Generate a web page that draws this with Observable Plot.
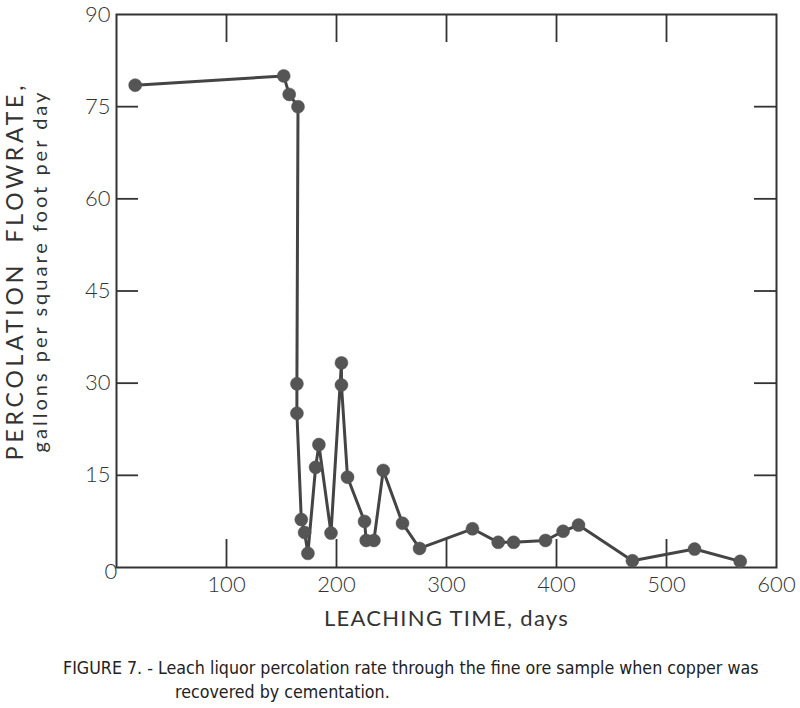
<!DOCTYPE html>
<html><head><meta charset="utf-8">
<script src="https://cdn.jsdelivr.net/npm/d3@7"></script>
<script src="https://cdn.jsdelivr.net/npm/@observablehq/plot@0.6"></script>
<style>
body{margin:0;background:#fff;}
#wrap{position:relative;width:800px;height:708px;}
.cap{position:absolute;font-family:"Liberation Sans Narrow","DejaVu Sans Condensed",sans-serif;font-size:17.7px;color:#222;white-space:nowrap;}
</style></head><body>
<div id="wrap"><div id="chart"></div>
<div class="cap" style="left:63px;top:658px;">FIGURE 7. - Leach liquor percolation rate through the fine ore sample when copper was</div>
<div class="cap" style="left:175px;top:682px;">recovered by cementation.</div>
</div>
<script>
// Data
const days = [17,152,157,165,164,164,168,171,174,181,184,195,204.5,204.5,210,225.5,227,234,242.5,260,275.5,323.6,347,361,390,406,420,469,525.5,567];
const flow = [78.5,80,77,75,29.9,25.1,7.8,5.7,2.3,16.3,20,5.6,33.3,29.7,14.7,7.5,4.4,4.4,15.8,7.2,3.1,6.3,4.1,4.1,4.4,5.9,6.9,1.1,3.0,1.0];
const xTicks = [100,200,300,400,500];
const yTicks = [15,30,45,60,75];
const xTickLabels = [100,200,300,400,500,600];
const yTickLabels = [15,30,45,60,75,90];
const xTitle = "LEACHING TIME, days";
const yTitle = "PERCOLATION  FLOWRATE,";
const ySub = "gallons per square foot per day";

const data = days.map((d,i)=>({days:d, flow:flow[i]}));
const W=800, H=645, mL=116, mR=24, mT=14, mB=78;
const FW = W-mL-mR, FH = H-mT-mB;
const ink = "#333";
const tickFont = "Lato, 'DejaVu Sans', sans-serif";

const chart = Plot.plot({
  width:W, height:H, marginLeft:mL, marginRight:mR, marginTop:mT, marginBottom:mB,
  x:{domain:[0,600]}, y:{domain:[0,90]},
  style:{fontFamily:tickFont, color:ink, background:"#fff"},
  marks:[
    Plot.tickX(xTicks,{x:d=>d, stroke:ink, strokeWidth:1.8, insetTop:FH-28}),
    Plot.tickX(xTicks,{x:d=>d, stroke:ink, strokeWidth:1.8, insetBottom:FH-28}),
    Plot.tickY(yTicks,{y:d=>d, stroke:ink, strokeWidth:1.8, insetRight:FW-22}),
    Plot.tickY(yTicks,{y:d=>d, stroke:ink, strokeWidth:1.8, insetLeft:FW-22}),
    Plot.frame({stroke:ink, strokeWidth:2}),
    Plot.axisX(xTickLabels,{tickSize:0, tickPadding:9, fontSize:22, fontWeight:300, fill:ink, label:null}),
    Plot.axisY(yTickLabels,{tickSize:0, tickPadding:6, fontSize:22, fontWeight:300, fill:ink, label:null}),
    Plot.text(["0"],{frameAnchor:"bottom-left", text:d=>d, dx:-12, dy:11, fontSize:22, fontWeight:300, fill:ink}),
    Plot.line(data,{x:"days", y:"flow", curve:"linear", stroke:"#444", strokeWidth:3}),
    Plot.dot(data,{x:"days", y:"flow", r:6.5, fill:"#555", stroke:"#555", strokeWidth:0.5}),
    Plot.text([xTitle],{frameAnchor:"bottom", text:d=>d, dy:58, fontSize:22, fontWeight:400, fill:ink, className:"xt"}),
    Plot.text([yTitle],{frameAnchor:"left", textAnchor:"middle", text:d=>d, rotate:-90, dx:-101, dy:-20, fontSize:23, fill:ink, className:"yt"}),
    Plot.text([ySub],{frameAnchor:"left", textAnchor:"middle", text:d=>d, rotate:-90, dx:-76, dy:-20, fontSize:20, fill:ink, className:"ys"})
  ]
});
d3.select(chart).selectAll(".xt text").style("letter-spacing","1.3px");
d3.select(chart).selectAll(".yt text").style("letter-spacing","3.8px");
d3.select(chart).selectAll(".ys text").style("letter-spacing","3px");
document.getElementById("chart").appendChild(chart);
</script>
</body></html>
